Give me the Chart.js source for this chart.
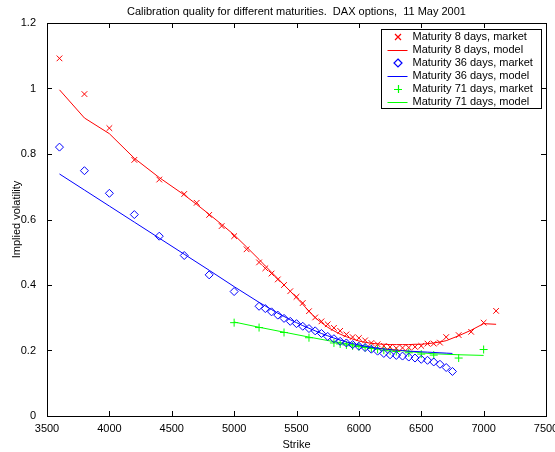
<!DOCTYPE html>
<html>
<head>
<meta charset="utf-8">
<title>Calibration quality</title>
<script src="https://cdn.jsdelivr.net/npm/chart.js@4.4.0/dist/chart.umd.min.js"></script>
<style>
    html, body { margin: 0; padding: 0; background: #fff; }
    #wrap { width: 555px; height: 452px; }
</style>
</head>
<body>
<div id="wrap"><canvas id="volChart" width="555" height="452"></canvas></div>
<script>
/**
 * Calibration quality for different maturities, DAX options 11 May 2001
 * Market implied vols vs. model vols for three maturities
 */

// Maturity 8 days
const STRIKES_8D = [3600, 3800, 4000, 4200, 4400, 4600, 4700, 4800, 4900, 5000, 5100,
    5200, 5250, 5300, 5350, 5400, 5450, 5500, 5550, 5600, 5650, 5700, 5750, 5800, 5850,
    5900, 5950, 6000, 6050, 6100, 6150, 6200, 6250, 6300, 6350, 6400, 6450, 6500, 6550,
    6600, 6650, 6700, 6800, 6900, 7000, 7100];
const MARKET_8D = [1.092, 0.983, 0.879, 0.782, 0.722, 0.678, 0.651, 0.614, 0.580, 0.549, 0.509,
    0.469, 0.451, 0.435, 0.417, 0.400, 0.381, 0.364, 0.345, 0.320, 0.301, 0.289, 0.280, 0.269, 0.260,
    0.249, 0.241, 0.238, 0.231, 0.223, 0.219, 0.214, 0.211, 0.207, 0.208, 0.209, 0.211, 0.214, 0.221,
    0.221, 0.224, 0.241, 0.247, 0.257, 0.285, 0.321];
const MODEL_8D = [0.996, 0.910, 0.862, 0.787, 0.728, 0.675, 0.646, 0.616, 0.585, 0.553, 0.516,
    0.478, 0.458, 0.439, 0.420, 0.400, 0.381, 0.361, 0.341, 0.320, 0.300, 0.285, 0.271, 0.260, 0.250,
    0.242, 0.235, 0.229, 0.225, 0.222, 0.220, 0.219, 0.218, 0.218, 0.218, 0.218, 0.219, 0.219, 0.221,
    0.223, 0.226, 0.230, 0.245, 0.262, 0.282, 0.280];

// Maturity 36 days
const STRIKES_36D = [3600, 3800, 4000, 4200, 4400, 4600, 4800, 5000,
    5200, 5250, 5300, 5350, 5400, 5450, 5500, 5550, 5600, 5650, 5700, 5750, 5800, 5850,
    5900, 5950, 6000, 6050, 6100, 6150, 6200, 6250, 6300, 6350, 6400, 6450, 6500, 6550,
    6600, 6650, 6700, 6750];
const MARKET_36D = [0.821, 0.749, 0.680, 0.615, 0.549, 0.490, 0.431, 0.380,
    0.335, 0.328, 0.318, 0.308, 0.298, 0.289, 0.282, 0.274, 0.267, 0.260, 0.252, 0.243, 0.236, 0.228,
    0.223, 0.218, 0.213, 0.209, 0.204, 0.198, 0.191, 0.187, 0.185, 0.183, 0.180, 0.177, 0.173, 0.170,
    0.165, 0.158, 0.148, 0.136];
const MODEL_36D = [0.739, 0.690, 0.641, 0.592, 0.543, 0.494, 0.445, 0.395,
    0.347, 0.336, 0.325, 0.314, 0.304, 0.294, 0.285, 0.276, 0.268, 0.260, 0.252, 0.245, 0.238, 0.232,
    0.226, 0.221, 0.217, 0.213, 0.210, 0.207, 0.205, 0.203, 0.201, 0.200, 0.198, 0.197, 0.196, 0.195,
    0.194, 0.193, 0.192, 0.191];

// Maturity 71 days
const STRIKES_71D = [5000, 5200, 5400, 5600, 5800, 5850, 5900, 5950, 6000, 6050, 6100, 6150,
    6200, 6250, 6300, 6400, 6500, 6600, 6800, 7000];
const MARKET_71D = [0.285, 0.270, 0.255, 0.239, 0.223, 0.220, 0.217, 0.214, 0.212, 0.209, 0.206, 0.204,
    0.201, 0.199, 0.197, 0.193, 0.189, 0.186, 0.177, 0.203];
const MODEL_71D = [0.287, 0.271, 0.256, 0.241, 0.227, 0.224, 0.221, 0.218, 0.215, 0.212, 0.209, 0.207,
    0.205, 0.203, 0.201, 0.197, 0.193, 0.190, 0.187, 0.185];

const X_TICKS = [3500, 4000, 4500, 5000, 5500, 6000, 6500, 7000, 7500];
const Y_TICKS = [0, 0.2, 0.4, 0.6, 0.8, 1, 1.2];

const TITLE = 'Calibration quality for different maturities.  DAX options,  11 May 2001';

const RED = '#ff0000', BLUE = '#0000ff', GREEN = '#00ff00';

// legend rows: label, colour, marker ('line' for the model curves)
const LEGEND_ROWS = [
    ['Maturity 8 days, market', RED, 'crossRot'],
    ['Maturity 8 days, model', RED, 'line'],
    ['Maturity 36 days, market', BLUE, 'rectRot'],
    ['Maturity 36 days, model', BLUE, 'line'],
    ['Maturity 71 days, market', GREEN, 'cross'],
    ['Maturity 71 days, model', GREEN, 'line']
];

Chart.defaults.font.family = "'Liberation Sans', Arial, Helvetica, sans-serif";
Chart.defaults.font.size = 11;
Chart.defaults.color = '#000';

function toPoints(xs, ys) {
    return xs.map((x, i) => ({ x: x, y: ys[i] }));
}

function marketSet(label, xs, ys, color, style) {
    return {
        label: label,
        data: toPoints(xs, ys),
        showLine: false,
        pointStyle: style,
        pointRadius: 4,
        pointHoverRadius: 4,
        pointBorderWidth: 1,
        pointBorderColor: color,
        pointBackgroundColor: 'rgba(0,0,0,0)',
        borderColor: color,
        backgroundColor: 'rgba(0,0,0,0)'
    };
}

function modelSet(label, xs, ys, color) {
    return {
        label: label,
        data: toPoints(xs, ys),
        showLine: true,
        borderColor: color,
        borderWidth: 1,
        pointRadius: 0,
        tension: 0,
        fill: false
    };
}

/**
 * Matlab style frame: box, inward ticks on all four sides, title
 */
const framePlugin = {
    id: 'frame',
    afterDraw(chart) {
        const ctx = chart.ctx;
        const a = chart.chartArea;
        const xs = chart.scales.x, ys = chart.scales.y;
        const tl = 5;
        ctx.save();
        ctx.strokeStyle = '#000';
        ctx.lineWidth = 1;
        ctx.beginPath();
        xs.ticks.forEach(t => {
            const px = Math.round(xs.getPixelForValue(t.value)) + 0.5;
            ctx.moveTo(px, a.bottom); ctx.lineTo(px, a.bottom - tl);
            ctx.moveTo(px, a.top); ctx.lineTo(px, a.top + tl);
        });
        ys.ticks.forEach(t => {
            const py = Math.round(ys.getPixelForValue(t.value)) + 0.5;
            ctx.moveTo(a.left, py); ctx.lineTo(a.left + tl, py);
            ctx.moveTo(a.right, py); ctx.lineTo(a.right - tl, py);
        });
        ctx.stroke();
        ctx.strokeRect(Math.round(a.left) + 0.5, Math.round(a.top) + 0.5,
            Math.round(a.right - a.left), Math.round(a.bottom - a.top));

        // title
        ctx.fillStyle = '#000';
        ctx.font = "11px 'Liberation Sans', Arial, sans-serif";
        ctx.textAlign = 'center';
        ctx.textBaseline = 'middle';
        ctx.fillText(TITLE, (a.left + a.right) / 2, 12);
        ctx.restore();
    }
};

// one legend sample: short line or marker
function legendSample(ctx, kind, color, x0, cy) {
    const cx = Math.round(x0 + 16), y = Math.round(cy), r = 4;
    ctx.save();
    ctx.strokeStyle = color;
    ctx.lineWidth = kind === 'line' ? 1 : 1.2;
    ctx.beginPath();
    if (kind === 'line') {
        ctx.moveTo(x0 + 6, y + 0.5); ctx.lineTo(x0 + 26, y + 0.5);
    } else if (kind === 'crossRot') {
        const d = 3;
        ctx.moveTo(cx - d, y - d); ctx.lineTo(cx + d, y + d);
        ctx.moveTo(cx + d, y - d); ctx.lineTo(cx - d, y + d);
    } else if (kind === 'rectRot') {
        ctx.moveTo(cx, y - r); ctx.lineTo(cx + r, y);
        ctx.lineTo(cx, y + r); ctx.lineTo(cx - r, y);
        ctx.closePath();
    } else {
        ctx.moveTo(cx - r, y + 0.5); ctx.lineTo(cx + r, y + 0.5);
        ctx.moveTo(cx + 0.5, y - r); ctx.lineTo(cx + 0.5, y + r);
    }
    ctx.stroke();
    ctx.restore();
}

/**
 * Legend box in the top right corner of the plot
 */
const legendPlugin = {
    id: 'boxLegend',
    afterDraw(chart) {
        const ctx = chart.ctx;
        const a = chart.chartArea;
        const w = 160, rowH = 13, h = 79;
        const x0 = Math.round(a.right - 5 - w) + 0.5;
        const y0 = Math.round(a.top + 6) + 0.5;
        ctx.save();
        ctx.fillStyle = '#fff';
        ctx.fillRect(x0, y0, w, h);
        ctx.strokeStyle = '#000';
        ctx.lineWidth = 1;
        ctx.strokeRect(x0, y0, w, h);
        ctx.restore();
        LEGEND_ROWS.forEach((row, i) => {
            const cy = y0 + 7 + i * rowH;
            legendSample(ctx, row[2], row[1], x0, cy);
            ctx.save();
            ctx.fillStyle = '#000';
            ctx.font = "11px 'Liberation Sans', Arial, sans-serif";
            ctx.textAlign = 'left';
            ctx.textBaseline = 'middle';
            ctx.fillText(row[0], x0 + 31, cy);
            ctx.restore();
        });
    }
};

function createChart() {
    const ctx = document.getElementById('volChart');
    new Chart(ctx, {
        type: 'scatter',
        data: {
            datasets: [
                marketSet(LEGEND_ROWS[0][0], STRIKES_8D, MARKET_8D, RED, 'crossRot'),
                modelSet(LEGEND_ROWS[1][0], STRIKES_8D, MODEL_8D, RED),
                marketSet(LEGEND_ROWS[2][0], STRIKES_36D, MARKET_36D, BLUE, 'rectRot'),
                modelSet(LEGEND_ROWS[3][0], STRIKES_36D, MODEL_36D, BLUE),
                marketSet(LEGEND_ROWS[4][0], STRIKES_71D, MARKET_71D, GREEN, 'cross'),
                modelSet(LEGEND_ROWS[5][0], STRIKES_71D, MODEL_71D, GREEN)
            ]
        },
        options: {
            responsive: false,
            animation: false,
            devicePixelRatio: 1,
            layout: { padding: { top: 23, right: 9, left: 0, bottom: 0 } },
            plugins: {
                legend: { display: false },
                title: { display: false },
                tooltip: { enabled: false }
            },
            scales: {
                x: {
                    type: 'linear',
                    min: 3500,
                    max: 7500,
                    afterFit: s => { s.height = 36; s.paddingLeft = 0; s.paddingRight = 0; },
                    afterBuildTicks: s => { s.ticks = X_TICKS.map(v => ({ value: v })); },
                    grid: { display: false },
                    border: { display: false },
                    ticks: {
                        padding: -2,
                        maxRotation: 0,
                        autoSkip: false,
                        callback: v => String(v)
                    },
                    title: { display: true, text: 'Strike', padding: { top: 0, bottom: 0 } }
                },
                y: {
                    type: 'linear',
                    min: 0,
                    max: 1.2,
                    afterFit: s => { s.width = 47; s.paddingTop = 0; s.paddingBottom = 0; },
                    afterBuildTicks: s => { s.ticks = Y_TICKS.map(v => ({ value: v })); },
                    grid: { display: false },
                    border: { display: false },
                    ticks: {
                        padding: 3,
                        autoSkip: false,
                        callback: v => String(+v.toFixed(1))
                    },
                    title: { display: true, text: 'Implied volatility', padding: { top: 10, bottom: 0 } }
                }
            }
        },
        plugins: [framePlugin, legendPlugin]
    });
}

document.addEventListener('DOMContentLoaded', createChart);
</script>
</body>
</html>
